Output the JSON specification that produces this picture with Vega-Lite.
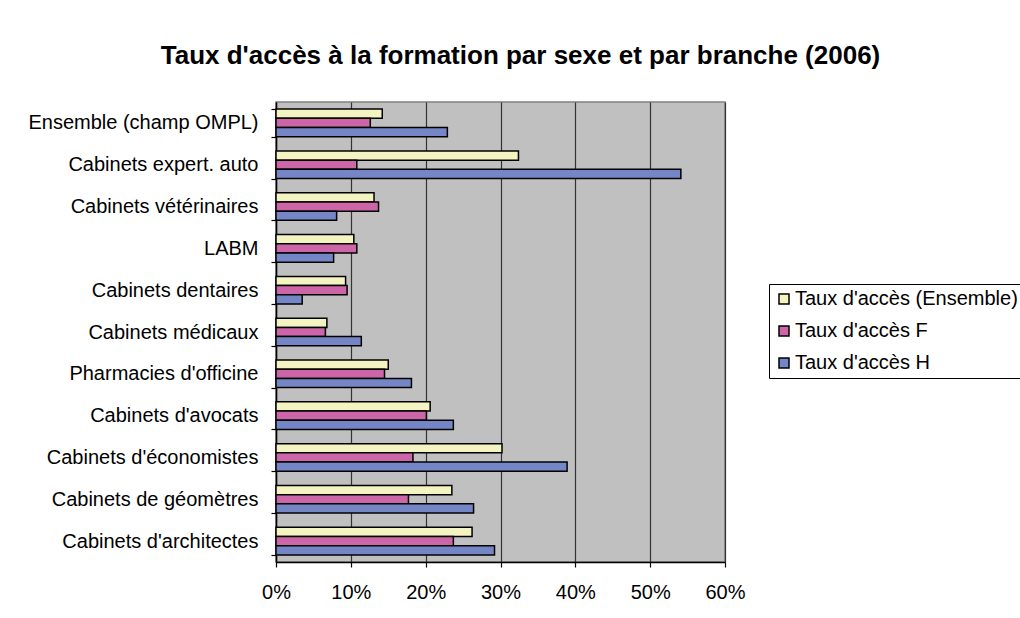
{
  "$schema": "https://vega.github.io/schema/vega-lite/v6.json",
  "width": 449,
  "height": 460,
  "autosize": {"type": "none"},
  "padding": {"left": 276, "top": 102, "right": 295, "bottom": 56},
  "background": "white",
  "title": {
    "text": "Taux d'accès à la formation par sexe et par branche (2006)",
    "font": "Liberation Sans",
    "fontSize": 26,
    "fontWeight": "bold",
    "color": "black",
    "anchor": "middle",
    "dx": 20,
    "offset": 23
  },
  "data": {
    "values": [
      {"branche": "Ensemble (champ OMPL)", "serie": "Taux d'accès (Ensemble)", "valeur": 0.142},
      {"branche": "Ensemble (champ OMPL)", "serie": "Taux d'accès F", "valeur": 0.126},
      {"branche": "Ensemble (champ OMPL)", "serie": "Taux d'accès H", "valeur": 0.229},
      {"branche": "Cabinets expert. auto", "serie": "Taux d'accès (Ensemble)", "valeur": 0.324},
      {"branche": "Cabinets expert. auto", "serie": "Taux d'accès F", "valeur": 0.108},
      {"branche": "Cabinets expert. auto", "serie": "Taux d'accès H", "valeur": 0.541},
      {"branche": "Cabinets vétérinaires", "serie": "Taux d'accès (Ensemble)", "valeur": 0.131},
      {"branche": "Cabinets vétérinaires", "serie": "Taux d'accès F", "valeur": 0.137},
      {"branche": "Cabinets vétérinaires", "serie": "Taux d'accès H", "valeur": 0.081},
      {"branche": "LABM", "serie": "Taux d'accès (Ensemble)", "valeur": 0.104},
      {"branche": "LABM", "serie": "Taux d'accès F", "valeur": 0.108},
      {"branche": "LABM", "serie": "Taux d'accès H", "valeur": 0.077},
      {"branche": "Cabinets dentaires", "serie": "Taux d'accès (Ensemble)", "valeur": 0.093},
      {"branche": "Cabinets dentaires", "serie": "Taux d'accès F", "valeur": 0.095},
      {"branche": "Cabinets dentaires", "serie": "Taux d'accès H", "valeur": 0.035},
      {"branche": "Cabinets médicaux", "serie": "Taux d'accès (Ensemble)", "valeur": 0.068},
      {"branche": "Cabinets médicaux", "serie": "Taux d'accès F", "valeur": 0.066},
      {"branche": "Cabinets médicaux", "serie": "Taux d'accès H", "valeur": 0.114},
      {"branche": "Pharmacies d'officine", "serie": "Taux d'accès (Ensemble)", "valeur": 0.150},
      {"branche": "Pharmacies d'officine", "serie": "Taux d'accès F", "valeur": 0.145},
      {"branche": "Pharmacies d'officine", "serie": "Taux d'accès H", "valeur": 0.181},
      {"branche": "Cabinets d'avocats", "serie": "Taux d'accès (Ensemble)", "valeur": 0.206},
      {"branche": "Cabinets d'avocats", "serie": "Taux d'accès F", "valeur": 0.201},
      {"branche": "Cabinets d'avocats", "serie": "Taux d'accès H", "valeur": 0.237},
      {"branche": "Cabinets d'économistes", "serie": "Taux d'accès (Ensemble)", "valeur": 0.302},
      {"branche": "Cabinets d'économistes", "serie": "Taux d'accès F", "valeur": 0.183},
      {"branche": "Cabinets d'économistes", "serie": "Taux d'accès H", "valeur": 0.389},
      {"branche": "Cabinets de géomètres", "serie": "Taux d'accès (Ensemble)", "valeur": 0.235},
      {"branche": "Cabinets de géomètres", "serie": "Taux d'accès F", "valeur": 0.177},
      {"branche": "Cabinets de géomètres", "serie": "Taux d'accès H", "valeur": 0.264},
      {"branche": "Cabinets d'architectes", "serie": "Taux d'accès (Ensemble)", "valeur": 0.262},
      {"branche": "Cabinets d'architectes", "serie": "Taux d'accès F", "valeur": 0.237},
      {"branche": "Cabinets d'architectes", "serie": "Taux d'accès H", "valeur": 0.292}
    ]
  },
  "mark": {"type": "bar", "stroke": "black", "strokeWidth": 1.5},
  "encoding": {
    "y": {
      "field": "branche",
      "type": "nominal",
      "sort": ["Ensemble (champ OMPL)", "Cabinets expert. auto", "Cabinets vétérinaires", "LABM", "Cabinets dentaires", "Cabinets médicaux", "Pharmacies d'officine", "Cabinets d'avocats", "Cabinets d'économistes", "Cabinets de géomètres", "Cabinets d'architectes"],
      "scale": {"paddingInner": 0.34, "paddingOuter": 0.17},
      "axis": {
        "title": null,
        "tickBand": "extent",
        "tickSize": 5,
        "tickColor": "black",
        "tickWidth": 1.2,
        "domainColor": "black",
        "domainWidth": 1.5,
        "labelFont": "Liberation Sans",
        "labelFontSize": 20,
        "labelColor": "black",
        "labelPadding": 13,
        "labelLimit": 400,
        "grid": false
      }
    },
    "yOffset": {
      "field": "serie",
      "type": "nominal",
      "sort": ["Taux d'accès (Ensemble)", "Taux d'accès F", "Taux d'accès H"],
      "scale": {"paddingInner": 0, "paddingOuter": 0}
    },
    "x": {
      "field": "valeur",
      "type": "quantitative",
      "scale": {"domain": [0, 0.6], "nice": false},
      "axis": {
        "title": null,
        "format": ".0%",
        "values": [0, 0.1, 0.2, 0.3, 0.4, 0.5, 0.6],
        "tickSize": 5,
        "tickColor": "black",
        "tickWidth": 1.2,
        "domainColor": "black",
        "domainWidth": 1.5,
        "labelFont": "Liberation Sans",
        "labelFontSize": 20,
        "labelColor": "black",
        "labelPadding": 15,
        "labelFlush": false,
        "grid": true,
        "gridColor": "#333333",
        "gridWidth": 1.2,
        "gridOpacity": 1
      }
    },
    "color": {
      "field": "serie",
      "type": "nominal",
      "scale": {
        "domain": ["Taux d'accès (Ensemble)", "Taux d'accès F", "Taux d'accès H"],
        "range": ["#F4F4C2", "#CC66A8", "#7586C6"]
      },
      "legend": {
        "title": null,
        "orient": "none",
        "legendX": 493,
        "legendY": 182,
        "strokeColor": "black",
        "fillColor": "white",
        "padding": 5,
        "rowPadding": 12,
        "symbolType": "square",
        "symbolSize": 100,
        "symbolStrokeColor": "black",
        "symbolStrokeWidth": 1.5,
        "labelFont": "Liberation Sans",
        "labelFontSize": 20,
        "labelColor": "black",
        "labelOffset": 1,
        "labelLimit": 400
      }
    }
  },
  "config": {
    "view": {"fill": "#C0C0C0", "stroke": "#808080", "strokeWidth": 1.5}
  }
}
